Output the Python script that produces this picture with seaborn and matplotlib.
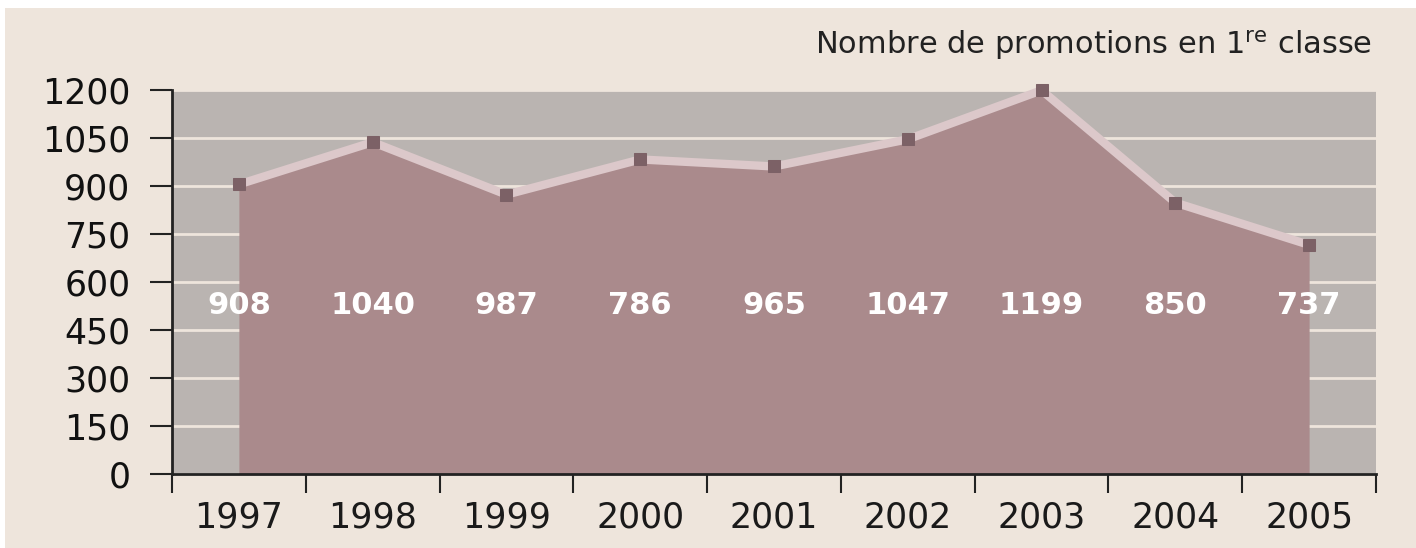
import numpy as np
import pandas as pd
import seaborn as sns
import matplotlib.pyplot as plt
from matplotlib.patches import Rectangle

# données
annees = ["1997", "1998", "1999", "2000", "2001", "2002", "2003", "2004", "2005"]
valeurs = [905, 1037, 873, 983, 961, 1046, 1199, 848, 716]
etiquettes = ["908", "1040", "987", "786", "965", "1047", "1199", "850", "737"]
graduations_y = [0, 150, 300, 450, 600, 750, 900, 1050, 1200]

BEIGE = "#EEE5DC"
GRIS = "#BAB4B1"
MAUVE = "#AA8A8C"
ROSE = "#DCC8CA"
PRUNE = "#7C6166"

sns.set_style("white")
plt.rcParams['font.family'] = ['DejaVu Sans']

df = pd.DataFrame({"x": np.arange(len(annees)), "valeur": valeurs})

fig = plt.figure(figsize=(14.16, 5.48), dpi=100)
fig.patch.set_facecolor("white")
fond = Rectangle((5 / 1416, 0), 1, (548 - 8) / 548, transform=fig.transFigure,
                 facecolor=BEIGE, edgecolor="none", zorder=-10)
fig.add_artist(fond)

ax = fig.add_axes([172 / 1416, 1 - 474 / 548, (1376 - 172) / 1416, (474 - 90) / 548])
ax.set_facecolor(GRIS)

# lignes de grille
for g in graduations_y:
    ax.axhline(g, color=BEIGE, lw=2, zorder=1)

ax.fill_between(df["x"], 0, df["valeur"], color=MAUVE, lw=0, zorder=2)
sns.lineplot(data=df, x="x", y="valeur", ax=ax, color=ROSE, lw=6, marker="s",
             markersize=9, markerfacecolor=PRUNE, markeredgecolor=PRUNE, zorder=3)
# le point de 2003 dépasse le haut du cadre
ax.lines[-1].set_clip_on(False)

for i, t in enumerate(etiquettes):
    ax.text(i, 527, t, color="white", fontsize=22, fontweight="bold",
            ha="center", va="center", zorder=4)

ax.set_xlim(-0.5, len(annees) - 0.5)
ax.set_ylim(0, 1200)
ax.set_yticks(graduations_y)
ax.set_xticks(np.arange(-0.5, len(annees)), labels=[""] * (len(annees) + 1))
ax.set_xticks(np.arange(len(annees)), labels=annees, minor=True)
ax.tick_params(axis="x", which="major", bottom=True, direction="out", length=14,
               width=1.5, color="#222222")
ax.tick_params(axis="x", which="minor", bottom=True, length=0, pad=19, labelsize=25,
               labelcolor="#1a1a1a")
ax.tick_params(axis="y", left=True, direction="out", length=16, width=1.5, color="#222222",
               pad=14, labelsize=25, labelcolor="#111111")
ax.set_xlabel("")
ax.set_ylabel("")

for s in ["top", "right"]:
    ax.spines[s].set_visible(False)
for s in ["left", "bottom"]:
    ax.spines[s].set_color("#222222")
    ax.spines[s].set_linewidth(2)

fig.text(1372 / 1416, 1 - 45 / 548, r"Nombre de promotions en 1$^{\mathrm{re}}$ classe",
         ha="right", va="center", fontsize=22, color="#222222")

fig.savefig("out.png", dpi=100, facecolor=fig.get_facecolor())
